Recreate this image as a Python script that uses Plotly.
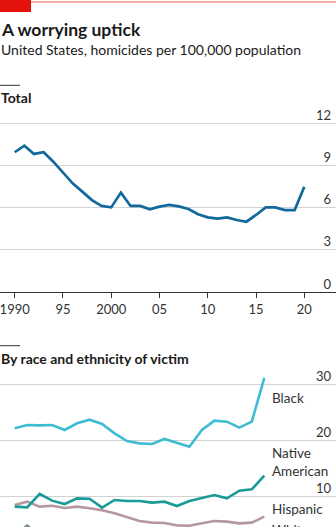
import plotly.graph_objects as go

W, H = 336, 527

# ---------------- data ----------------
years_total = list(range(1990, 2021))
total = [9.94, 10.41, 9.82, 9.94, 9.27, 8.49, 7.73, 7.14, 6.54, 6.12, 6.02,
         7.07, 6.12, 6.12, 5.88, 6.07, 6.19, 6.09, 5.90, 5.53, 5.31, 5.22,
         5.31, 5.12, 5.00, 5.48, 6.02, 6.02, 5.83, 5.83, 7.49]

years_race = list(range(2000, 2021))
black = [22.08, 22.68, 22.62, 22.68, 21.79, 22.98, 23.63, 22.86, 21.19, 19.82,
         19.40, 19.29, 20.18, 19.52, 18.81, 21.79, 23.45, 23.27, 22.20, 23.27, 31.1]
native_american = [8.10, 7.98, 10.36, 9.17, 8.57, 9.58, 9.52, 7.92, 9.29, 9.11,
                   9.11, 8.81, 8.99, 8.21, 9.11, 9.58, 10.18, 9.58, 10.95, 11.19, 13.63]
hispanic = [8.39, 8.99, 8.10, 8.27, 7.86, 8.10, 7.80, 7.44, 6.90, 6.19,
            5.54, 5.24, 5.18, 4.76, 4.70, 5.12, 5.54, 5.42, 5.12, 5.24, 6.31]
white = [3.0, 4.7, 3.0, 3.0, 2.9, 3.0, 3.0, 2.9, 2.9, 2.8,
         2.7, 2.7, 2.7, 2.6, 2.6, 2.8, 3.0, 3.0, 3.0, 3.0, 3.6]

total_ticks = [0, 3, 6, 9, 12]
year_ticks = [1990, 1995, 2000, 2005, 2010, 2015, 2020]
year_labels = ["1990", "95", "2000", "05", "10", "15", "20"]
race_ticks = [10, 20, 30]

# ---------------- styles ----------------
FONT = "Lato"
TXT = "#1a1a1a"
C_TOTAL = "#13699C"
C_BLACK = "#3EBCD2"
C_NATIVE = "#1A9B99"
C_HISP = "#B5989F"
C_WHITE = "#758D99"
GRID = "#d3d3d3"


def px(x):
    return x / W


def py(y):
    return 1 - y / H


fig = go.Figure()

fig.add_trace(go.Scatter(x=years_total, y=total, mode="lines",
                         line=dict(color=C_TOTAL, width=2.7), xaxis="x", yaxis="y",
                         showlegend=False, hoverinfo="skip"))

for vals, col in [(white, C_WHITE), (hispanic, C_HISP), (native_american, C_NATIVE), (black, C_BLACK)]:
    fig.add_trace(go.Scatter(x=years_race, y=vals, mode="lines",
                             line=dict(color=col, width=2.6), xaxis="x2", yaxis="y2",
                             showlegend=False, hoverinfo="skip"))

# panel 1 geometry: 1990 -> 14.7px, 2020 -> 304.3px
ppy1 = (304.3 - 14.7) / 30
x1_range = [1990 - 14.7 / ppy1, 2020 + (W - 304.3) / ppy1]
# panel 1 y: 0 -> 292px, 12 -> 123.3px
ppv1 = (292 - 123.3) / 12
y1_top_px = 104
y1_range = [0, 12 + (123.3 - y1_top_px) / ppv1]
# panel 2 geometry: 2000 -> 14.7px, 2020 -> 264.3px
ppy2 = (264.3 - 14.7) / 20
x2_range = [2000 - 14.7 / ppy2, 2020 + (W - 264.3) / ppy2]
# panel 2 y: 30 -> 384px, 10 -> 496px
ppv2 = (496 - 384) / 20
y2_top_px = 364
y2_range = [10 - (H - 496) / ppv2, 30 + (384 - y2_top_px) / ppv2]

tickfont = dict(family=FONT, size=13, color="#333333")

fig.update_layout(
    width=W, height=H,
    margin=dict(l=0, r=0, t=0, b=0),
    paper_bgcolor="white", plot_bgcolor="white",
    showlegend=False,
    xaxis=dict(domain=[0, 1], range=x1_range, anchor="y",
               tickvals=year_ticks, ticktext=year_labels,
               ticks="outside", ticklen=5, tickwidth=1, tickcolor="#333333",
               showline=True, linecolor="#333333", linewidth=1,
               ticklabeloverflow="allow",
               showgrid=False, zeroline=False, tickfont=tickfont),
    yaxis=dict(domain=[py(292), py(y1_top_px)], range=y1_range, anchor="x",
               side="right", tickvals=total_ticks, ticklabelposition="inside",
               ticklabelshift=-8, ticklabelstandoff=2, ticks="",
               showgrid=True, gridcolor=GRID, gridwidth=1,
               zeroline=False, showline=False, tickfont=tickfont),
    xaxis2=dict(domain=[0, 1], range=x2_range, anchor="y2", visible=False),
    yaxis2=dict(domain=[0, py(y2_top_px)], range=y2_range, anchor="x2",
                side="right", tickvals=race_ticks, ticklabelposition="inside",
                ticklabelshift=-8, ticklabelstandoff=2, ticks="",
                showgrid=True, gridcolor=GRID, gridwidth=1,
                zeroline=False, showline=False, tickfont=tickfont),
)

shapes = [
    dict(type="line", xref="paper", yref="paper", x0=0, x1=1, y0=py(2), y1=py(2),
         line=dict(color="#EE5A55", width=1)),
    dict(type="rect", xref="paper", yref="paper", x0=0, x1=px(31), y0=py(12), y1=1,
         fillcolor="#E3120B", line=dict(width=0)),
    dict(type="line", xref="paper", yref="paper", x0=0, x1=px(20), y0=py(85.3), y1=py(85.3),
         line=dict(color="#333333", width=1)),
    dict(type="line", xref="paper", yref="paper", x0=0, x1=px(20), y0=py(345.7), y1=py(345.7),
         line=dict(color="#333333", width=1)),
]
fig.update_layout(shapes=shapes)

ann = []


def text(x, y, s, size, bold=False, color=TXT, xanchor="left"):
    ann.append(dict(xref="paper", yref="paper", x=px(x), y=py(y), text=(f"<b>{s}</b>" if bold else s),
                    showarrow=False, xanchor=xanchor, yanchor="middle", align="left",
                    font=dict(family=FONT, size=size, color=color)))


text(-1, 29, "A worrying uptick", 17.5, bold=True)
text(-1, 50, "United States, homicides per 100,000 population", 14)
text(-1, 97.5, "Total", 14, bold=True)
text(-1, 358.5, "By race and ethnicity of victim", 14, bold=True)

text(270, 398, "Black", 13.5, color="#333333")
text(270, 462, "Native<br>American", 13.5, color="#333333")
text(270, 509, "Hispanic", 13.5, color="#333333")
text(270, 530, "White", 13.5, color="#333333")

fig.update_layout(annotations=ann)

fig.write_html("out.html")
